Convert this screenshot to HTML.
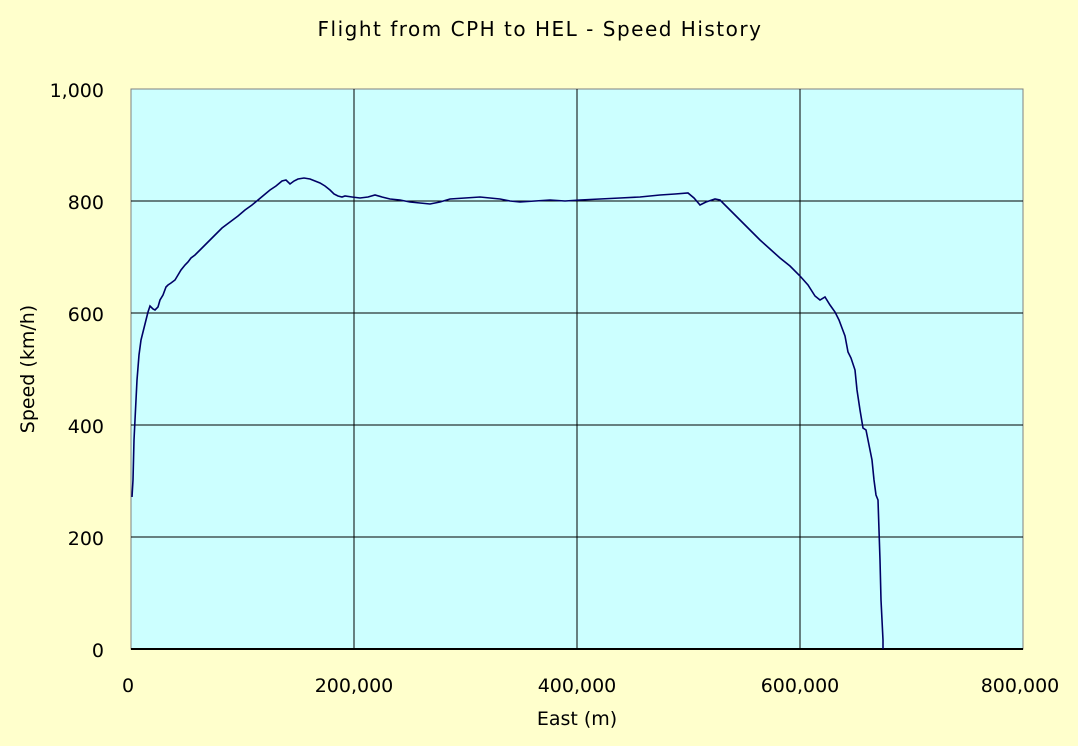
<!DOCTYPE html>
<html><head><style>body{margin:0;background:#FFFFCC;}</style></head><body>
<svg width="1078" height="741" xmlns="http://www.w3.org/2000/svg" font-family="DejaVu Sans, sans-serif" font-size="19" fill="#000">
<rect width="1078" height="741" fill="#FFFFCC"/>
<rect x="131" y="89" width="892" height="560" fill="#CCFFFF" stroke="#808080" stroke-width="1"/>
<g stroke="#000" stroke-width="1">
<line x1="131" y1="201" x2="1023" y2="201"/>
<line x1="131" y1="313" x2="1023" y2="313"/>
<line x1="131" y1="425" x2="1023" y2="425"/>
<line x1="131" y1="537" x2="1023" y2="537"/>
<line x1="354" y1="89" x2="354" y2="649"/>
<line x1="577" y1="89" x2="577" y2="649"/>
<line x1="800" y1="89" x2="800" y2="649"/>
<line x1="131" y1="649" x2="1023" y2="649" stroke-width="2"/>
</g>
<polyline fill="none" stroke="#000066" stroke-width="1.6" points="132,497 133,480 134,440 136,400 137,380 139,355 141,340 144,328 146,320 148,312 150,306 153,309 155,310 158,307 160,300 163,295 166,287 168,285 171,283 175,280 178,275 181,270 185,265 188,262 191,258 195,255 200,250 205,245 210,240 215,235 222,228 230,222 238,216 245,210 252,205 258,200 264,195 270,190 276,186 282,181 286,180 290,184 294,181 298,179 304,178 310,179 315,181 320,183 325,186 330,190 334,194 338,196 342,197 345,196 352,197 360,198 368,197 375,195 382,197 390,199 400,200 410,202 420,203 430,204 440,202 450,199 465,198 480,197 490,198 500,199 510,201 520,202 535,201 550,200 565,201 580,200 600,199 620,198 640,197 660,195 675,194 688,193 694,198 700,205 706,202 715,199 720,200 730,210 740,220 750,230 760,240 770,249 780,258 790,266 800,276 808,285 815,296 820,300 825,297 830,305 835,312 839,320 842,328 845,336 848,352 851,358 855,370 857,390 860,410 863,428 866,430 869,445 872,460 874,480 876,495 878,500 880,560 881,600 882,620 883,640 883,649"/>
<text x="540" y="36" text-anchor="middle" font-size="20" letter-spacing="1.5">Flight from CPH to HEL - Speed History</text>
<g text-anchor="end">
<text x="104" y="97">1,000</text>
<text x="104" y="209">800</text>
<text x="104" y="321">600</text>
<text x="104" y="433">400</text>
<text x="104" y="545">200</text>
<text x="104" y="657">0</text>
</g>
<g text-anchor="middle">
<text x="128" y="692">0</text>
<text x="354" y="692">200,000</text>
<text x="577" y="692">400,000</text>
<text x="800" y="692">600,000</text>
<text x="1020" y="692">800,000</text>
<text x="577" y="725">East (m)</text>
<text transform="translate(34,369) rotate(-90)">Speed (km/h)</text>
</g>
</svg>
</body></html>
